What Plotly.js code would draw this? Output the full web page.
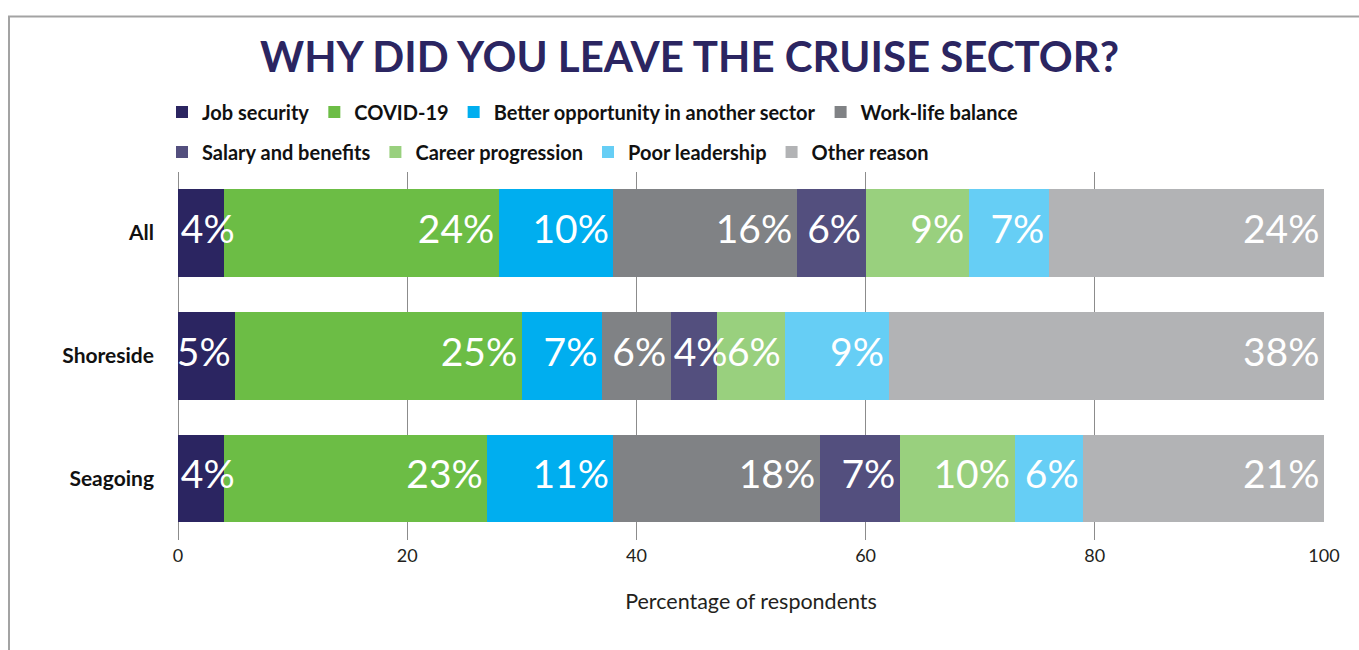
<!DOCTYPE html>
<html>
<head>
<meta charset="utf-8">
<script src="https://cdn.plot.ly/plotly-3.0.1.min.js"></script>
<style>
  html, body { margin: 0; padding: 0; background: #ffffff; }
  #chart { width: 1359px; height: 650px; }
</style>
</head>
<body>
<div id="chart"></div>
<script>
// ---- Data ----
const categories = ['All', 'Shoreside', 'Seagoing'];
const seriesNames = ['Job security', 'COVID-19', 'Better opportunity in another sector', 'Work-life balance',
                     'Salary and benefits', 'Career progression', 'Poor leadership', 'Other reason'];
const jobSecurity = [4, 5, 4];
const covid19 = [24, 25, 23];
const betterOpportunity = [10, 7, 11];
const workLifeBalance = [16, 6, 18];
const salaryBenefits = [6, 4, 7];
const careerProgression = [9, 6, 10];
const poorLeadership = [7, 9, 6];
const otherReason = [24, 38, 21];
const xTickValues = [0, 20, 40, 60, 80, 100];

const seriesValues = [jobSecurity, covid19, betterOpportunity, workLifeBalance,
                      salaryBenefits, careerProgression, poorLeadership, otherReason];
const seriesColors = ['#2b2561', '#6cbd45', '#00aeef', '#808285',
                      '#534f7e', '#99d07e', '#66cef5', '#b2b3b5'];

const FONT = 'Lato, "Open Sans", sans-serif';
const traces = [];

// stacked bars
seriesValues.forEach((vals, i) => {
  traces.push({
    type: 'bar',
    orientation: 'h',
    name: seriesNames[i],
    x: vals,
    y: categories,
    marker: { color: seriesColors[i], line: { width: 0 } },
    legend: i < 4 ? 'legend' : 'legend2',
    hoverinfo: 'x+name'
  });
});

// value labels (drawn above all bars)
const cumStart = categories.map(() => 0);
seriesValues.forEach((vals, i) => {
  const xs = [], pos = [];
  vals.forEach((v, k) => {
    const start = cumStart[k];
    const end = start + v;
    if (v <= 4) { xs.push(start + 0.25); pos.push('middle right'); }
    else { xs.push(end - 0.4); pos.push('middle left'); }
    cumStart[k] = end;
  });
  traces.push({
    type: 'scatter',
    mode: 'text',
    x: xs,
    y: categories,
    text: vals.map(v => v + '%'),
    textposition: pos,
    textfont: { family: FONT, size: 39, color: '#ffffff' },
    showlegend: false,
    hoverinfo: 'skip',
    cliponaxis: false
  });
});

const legendFont = { family: FONT, size: 20, color: '#111111', weight: 'bold' };

const layout = {
  width: 1359,
  height: 650,
  margin: { l: 178, r: 35, t: 169, b: 110 },
  paper_bgcolor: '#ffffff',
  plot_bgcolor: '#ffffff',
  barmode: 'stack',
  bargap: 0.287,
  showlegend: true,
  title: {
    text: 'WHY DID YOU LEAVE THE CRUISE SECTOR?',
    font: { family: FONT, size: 42, color: '#2b2561', weight: 'bold' },
    xref: 'container', x: 0.5074, xanchor: 'center',
    yref: 'container', y: 1 - 57 / 650, yanchor: 'middle'
  },
  legend: {
    orientation: 'h',
    xref: 'container', yref: 'container',
    x: 162 / 1359, xanchor: 'left',
    y: 1 - 112 / 650, yanchor: 'middle',
    font: legendFont,
    traceorder: 'normal',
    bgcolor: 'rgba(0,0,0,0)'
  },
  legend2: {
    orientation: 'h',
    xref: 'container', yref: 'container',
    x: 162 / 1359, xanchor: 'left',
    y: 1 - 152 / 650, yanchor: 'middle',
    font: legendFont,
    traceorder: 'normal',
    bgcolor: 'rgba(0,0,0,0)'
  },
  xaxis: {
    range: [0, 100],
    tickmode: 'array',
    tickvals: xTickValues,
    ticktext: xTickValues.map(String),
    showgrid: true,
    gridcolor: '#8c8c8c',
    gridwidth: 1,
    zeroline: true,
    zerolinecolor: '#8c8c8c',
    zerolinewidth: 1,
    showline: false,
    ticks: '',
    ticklabelstandoff: 3,
    tickfont: { family: FONT, size: 18, color: '#231f20' },
    title: {
      text: 'Percentage of respondents',
      font: { family: FONT, size: 21.5, color: '#231f20' },
      standoff: 28
    },
    fixedrange: true
  },
  yaxis: {
    type: 'category',
    categoryorder: 'array',
    categoryarray: categories,
    autorange: 'reversed',
    showgrid: false,
    zeroline: false,
    showline: false,
    ticks: '',
    ticklabelstandoff: 23,
    tickfont: { family: FONT, size: 21, color: '#111111', weight: 'bold' },
    fixedrange: true
  },
  shapes: [{
    type: 'rect',
    xref: 'paper', yref: 'paper',
    x0: (9 - 178) / 1146, x1: (1380 - 178) / 1146,
    y0: (540 - 680) / 371, y1: (540 - 13) / 371,
    line: { color: '#a3a3a3', width: 2 },
    fillcolor: 'rgba(0,0,0,0)',
    layer: 'below'
  }]
};

Plotly.newPlot('chart', traces, layout, { displayModeBar: false, staticPlot: true });
</script>
</body>
</html>
